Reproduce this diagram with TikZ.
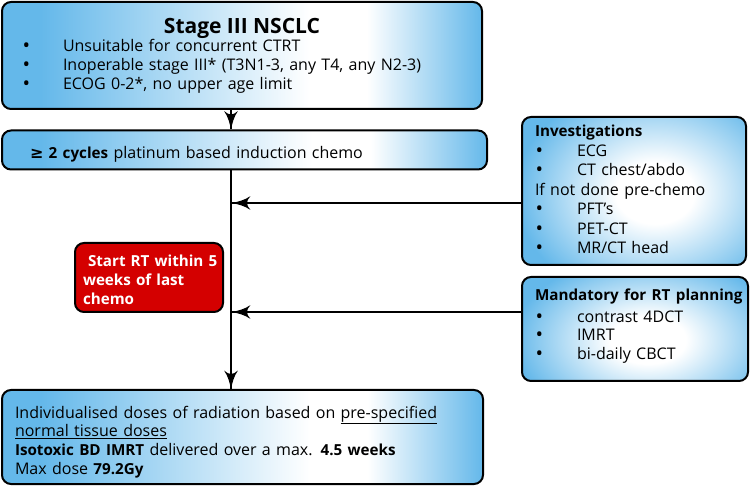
\documentclass[tikz,border=0pt]{standalone}
\usepackage{fontspec}
\setmainfont{Open Sans}
\newfontfamily\symfont{DejaVu Sans}
\usetikzlibrary{arrows}
\usetikzlibrary{decorations.markings}
\definecolor{boxblue}{RGB}{100,184,234}
\definecolor{rtred}{RGB}{212,0,0}
\pgfdeclarehorizontalshading{sideglow}{100bp}{color(0bp)=(boxblue); color(29bp)=(boxblue); color(57bp)=(white); color(63bp)=(white); color(75bp)=(boxblue); color(100bp)=(boxblue)}
\pgfdeclareradialshading{discglow}{\pgfpoint{0bp}{0bp}}{color(0bp)=(white); color(7bp)=(white); color(25bp)=(boxblue); color(50bp)=(boxblue)}
\tikzset{feed/.style = {line width=2pt,
                        decoration={markings,
                                    mark=at position 1 with {\arrow[scale=2.1]{latex'}}},
                        postaction={decorate}}}
\tikzset{infobox/.style = {draw, line width=2pt, rounded corners=9pt,
                           align=left, inner ysep=0pt, font=\fontsize{16}{18.6}\selectfont}}
\tikzset{wideglow/.style = {shade, shading=sideglow}}
\tikzset{spotglow/.style n args = {4}{path picture = {
           \fill [boxblue] (path picture bounding box.south west) rectangle (path picture bounding box.north east);
           \shade [shading=discglow] ([xshift=#1pt, yshift=#2pt]path picture bounding box.center)
                  ellipse [x radius=#3pt, y radius=#4pt];}}}
\tikzset{redbox/.style = {draw, line width=2pt, rounded corners=9pt, fill=rtred, text=white,
                          align=left, inner ysep=0pt, font=\fontsize{15.2}{19}\selectfont\bfseries}}
\newcommand{\bul}[1][38pt]{\makebox[#1][l]{\hspace*{-2.5pt}\smash{\raisebox{-1pt}{\scalebox{1.25}{\textbullet}}}}}
\newcommand{\bt}[1]{{\fontsize{15.2}{18.6}\selectfont\bfseries #1}}

\begin{document}
\begin{tikzpicture}[x=1pt, y=-1pt]
      \useasboundingbox (0, 0) rectangle (750, 486);

      \node [infobox, wideglow, minimum width = 480, minimum height = 107, inner xsep = 23, text width = 434] (stage) at (242, 55.5)
            {\makebox[434pt]{\fontsize{21}{22}\selectfont\bfseries Stage III NSCLC}\\
             \bul Unsuitable for concurrent CTRT\\
             \bul Inoperable stage III* (T3N1-3, any T4, any N2-3)\\
             \bul ECOG 0-2*, no upper age limit};
      \node [infobox, wideglow, minimum width = 485, minimum height = 39, inner xsep = 28, text width = 429] (chemo) at (244.5, 150)
            {\rule{0pt}{20pt}{\symfont\bfseries ≥} \bt{2 cycles} platinum based induction chemo};
      \node [infobox, wideglow, minimum width = 481, minimum height = 94, inner xsep = 13, text width = 455] (dose) at (242.5, 437)
            {\rule{0pt}{22pt}Individualised doses of radiation based on \underline{pre-specified}\\
             \underline{normal tissue doses}\\
             \bt{Isotoxic BD IMRT} delivered over a max. \bt{4.5 weeks}\\
             Max dose \bt{79.2Gy}};
      \node [infobox, spotglow = {21}{-2}{140}{110}, minimum width = 224, minimum height = 148, inner xsep = 13, text width = 198,
             font = \fontsize{16}{19.5}\selectfont] (invest) at (634, 191)
            {\bt{Investigations}\\
             \hspace*{3pt}\bul[39pt]ECG\\
             \hspace*{3pt}\bul[39pt]CT chest/abdo\\
             If not done pre-chemo\\
             \hspace*{3pt}\bul[39pt]PFT’s\\
             \hspace*{3pt}\bul[39pt]PET-CT\\
             \hspace*{3pt}\bul[39pt]MR/CT head\rule[-3pt]{0pt}{3pt}};
      \node [infobox, spotglow = {13}{-11}{135}{85}, minimum width = 226, minimum height = 104, inner xsep = 13, text width = 200] (mand) at (635, 329)
            {\mbox{\bt{Mandatory for RT planning}}\\[3pt]
             \hspace*{3pt}\bul[39pt]contrast 4DCT\\
             \hspace*{3pt}\bul[39pt]IMRT\\
             \hspace*{3pt}\bul[39pt]bi-daily CBCT\rule[-10pt]{0pt}{10pt}};
      \node [redbox, minimum width = 148, minimum height = 69, inner xsep = 8, text width = 132] (startrt) at (149, 277.5)
            {\rule{0pt}{16pt}\mbox{\hspace*{5pt}Start RT within 5}\\ weeks of last\\ chemo};

      \coordinate (spine) at (231, 0);
      \coordinate (investin) at (232, 203);
      \coordinate (mandin) at (232, 312);

      \draw [feed] (stage.south -| spine) -- (chemo.north -| spine);
      \draw [feed] (chemo.south -| spine) -- (dose.north -| spine);
      \draw [feed] (invest.west |- investin) -- (investin);
      \draw [feed] (mand.west |- mandin) -- (mandin);
    \end{tikzpicture}
\end{document}
